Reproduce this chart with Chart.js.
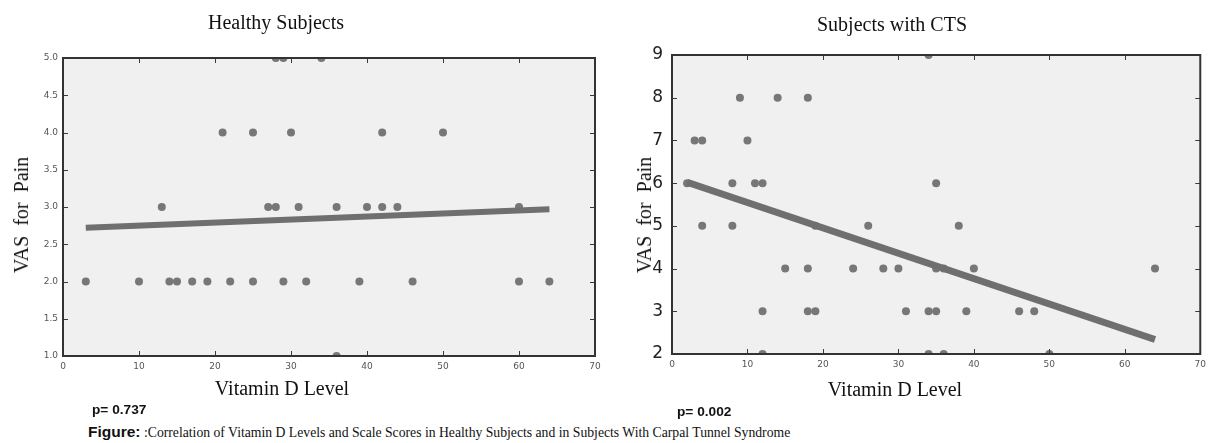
<!DOCTYPE html>
<html>
<head>
<meta charset="utf-8">
<script src="https://cdn.jsdelivr.net/npm/chart.js@4.4.1/dist/chart.umd.min.js"></script>
<style>
  html, body { margin:0; padding:0; background:#fff; }
  body { width:1211px; height:443px; position:relative; overflow:hidden; }
  canvas { position:absolute; top:0; }
  .t { position:absolute; white-space:nowrap; color:#111; line-height:1; }
  .serif { font-family:"Liberation Serif","DejaVu Serif",serif; }
  .sans { font-family:"Liberation Sans",Arial,sans-serif; }
  .rot { transform-origin:center center; transform:translate(-50%,-50%) rotate(-90deg); }
  .ctr { transform:translate(-50%,-50%); }
  .vc { transform:translateY(-50%); }
</style>
</head>
<body>
<canvas id="c1" width="610" height="380" style="left:0;width:610px;height:380px"></canvas>
<canvas id="c2" width="601" height="380" style="left:610px;width:601px;height:380px"></canvas>

<div class="t serif ctr" style="left:276px;top:22px;font-size:20px">Healthy Subjects</div>
<div class="t serif ctr" style="left:892px;top:24px;font-size:20px">Subjects with CTS</div>
<div class="t serif rot" style="left:21px;top:215px;font-size:20px">VAS&nbsp; for&nbsp; Pain</div>
<div class="t serif rot" style="left:644px;top:215px;font-size:20px">VAS&nbsp; for&nbsp; Pain</div>
<div class="t serif ctr" style="left:282px;top:388px;font-size:20px">Vitamin D Level</div>
<div class="t serif ctr" style="left:895px;top:389px;font-size:20px">Vitamin D Level</div>
<div class="t sans vc" style="left:92px;top:410px;font-size:13.7px;font-weight:bold">p= 0.737</div>
<div class="t sans vc" style="left:677px;top:412px;font-size:13.7px;font-weight:bold">p= 0.002</div>
<div class="t vc" style="left:88px;top:432px"><span class="sans" style="font-weight:bold;font-size:15.5px">Figure:</span><span class="serif" style="font-size:13.7px"> :Correlation of Vitamin D Levels and Scale Scores in Healthy Subjects and in Subjects With Carpal Tunnel Syndrome</span></div>

<script>
// ---- Data ----
const healthyX = [3,10,14,15,17,19,22,25,29,32,39,46,60,64, 13,27,28,31,36,40,42,44,60, 21,25,30,42,50, 28,29,34, 36];
const healthyY = [2,2,2,2,2,2,2,2,2,2,2,2,2,2, 3,3,3,3,3,3,3,3,3, 4,4,4,4,4, 5,5,5, 1];
const healthyFitX = [3, 64];
const healthyFitY = [2.72, 2.97];

const ctsX = [34, 9,14,18, 3,4,10, 2,8,11,12,35, 4,8,19,26,38, 15,18,24,28,30,35,36,40,64, 12,18,19,31,34,35,39,46,48, 12,34,36,50];
const ctsY = [9, 8,8,8, 7,7,7, 6,6,6,6,6, 5,5,5,5,5, 4,4,4,4,4,4,4,4,4, 3,3,3,3,3,3,3,3,3, 2,2,2,2];
const ctsFitX = [2, 64];
const ctsFitY = [6.02, 2.34];

const xTicks = [0,10,20,30,40,50,60,70];
const healthyYTicks = [1.0,1.5,2.0,2.5,3.0,3.5,4.0,4.5,5.0];
const ctsYTicks = [2,3,4,5,6,7,8,9];

const zip = (xs, ys) => xs.map((x, i) => ({x, y: ys[i]}));

const framePlugin = {
  id: 'frame',
  beforeDraw(chart) {
    const a = chart.chartArea, c = chart.ctx;
    c.save(); c.fillStyle = '#f0f0f0';
    c.fillRect(a.left, a.top, a.right - a.left, a.bottom - a.top);
    c.restore();
  },
  afterDraw(chart) {
    const a = chart.chartArea, c = chart.ctx;
    const xs = chart.scales.x, ys = chart.scales.y;
    c.save();
    c.strokeStyle = '#3a3a3a'; c.lineWidth = 1;
    const L = 5;
    c.beginPath();
    xs.ticks.forEach(t => {
      const px = Math.round(xs.getPixelForValue(t.value)) + 0.5;
      c.moveTo(px, a.bottom); c.lineTo(px, a.bottom - L);
      c.moveTo(px, a.top); c.lineTo(px, a.top + L);
    });
    ys.ticks.forEach(t => {
      const py = Math.round(ys.getPixelForValue(t.value)) + 0.5;
      c.moveTo(a.left, py); c.lineTo(a.left + L, py);
      c.moveTo(a.right, py); c.lineTo(a.right - L, py);
    });
    c.stroke();
    c.lineWidth = 2; c.strokeStyle = '#333';
    c.strokeRect(a.left, a.top, a.right - a.left, a.bottom - a.top);
    c.restore();
  }
};

function makeChart(id, pts, fit, yTicks, cfg) {
  return new Chart(document.getElementById(id), {
    type: 'scatter',
    data: {
      datasets: [
        { data: fit, showLine: true, pointRadius: 0, borderColor: '#6f6f6f', borderWidth: cfg.lineW, borderCapStyle: 'butt', clip: 0, fill: false },
        { data: pts, pointRadius: 4, pointBackgroundColor: '#777', pointBorderWidth: 0, borderWidth: 0, clip: 0 }
      ]
    },
    options: {
      responsive: false, animation: false, devicePixelRatio: 1,
      layout: { padding: { top: cfg.top, right: cfg.right, left: 0, bottom: 0 } },
      plugins: { legend: { display: false }, tooltip: { enabled: false } },
      scales: {
        x: {
          type: 'linear', min: 0, max: 70,
          afterBuildTicks: s => { s.ticks = xTicks.map(v => ({value: v})); },
          afterFit: s => { s.height = cfg.xh; },
          grid: { display: false, drawTicks: false },
          border: { display: false },
          ticks: { padding: 5, color: '#555', font: { family: 'DejaVu Sans', size: 9 }, maxRotation: 0, autoSkip: false, callback: v => String(v) }
        },
        y: {
          type: 'linear', min: yTicks[0], max: yTicks[yTicks.length - 1],
          afterBuildTicks: s => { s.ticks = yTicks.map(v => ({value: v})); },
          afterFit: s => { s.width = cfg.yw; },
          grid: { display: false, drawTicks: false },
          border: { display: false },
          ticks: { padding: cfg.ypad, color: cfg.ycol, font: { family: 'DejaVu Sans', size: cfg.yfs }, autoSkip: false, callback: cfg.yfmt }
        }
      }
    },
    plugins: [framePlugin]
  });
}

makeChart('c1', zip(healthyX, healthyY), zip(healthyFitX, healthyFitY), healthyYTicks,
  { top: 58, right: 15, xh: 24, yw: 63, lineW: 6, ypad: 5, yfs: 9, ycol: '#555', yfmt: v => Number(v).toFixed(1) });
makeChart('c2', zip(ctsX, ctsY), zip(ctsFitX, ctsFitY), ctsYTicks,
  { top: 55, right: 7, xh: 26, yw: 62, lineW: 7, ypad: 9, yfs: 17, ycol: '#222', yfmt: v => String(v) });
</script>
</body>
</html>
